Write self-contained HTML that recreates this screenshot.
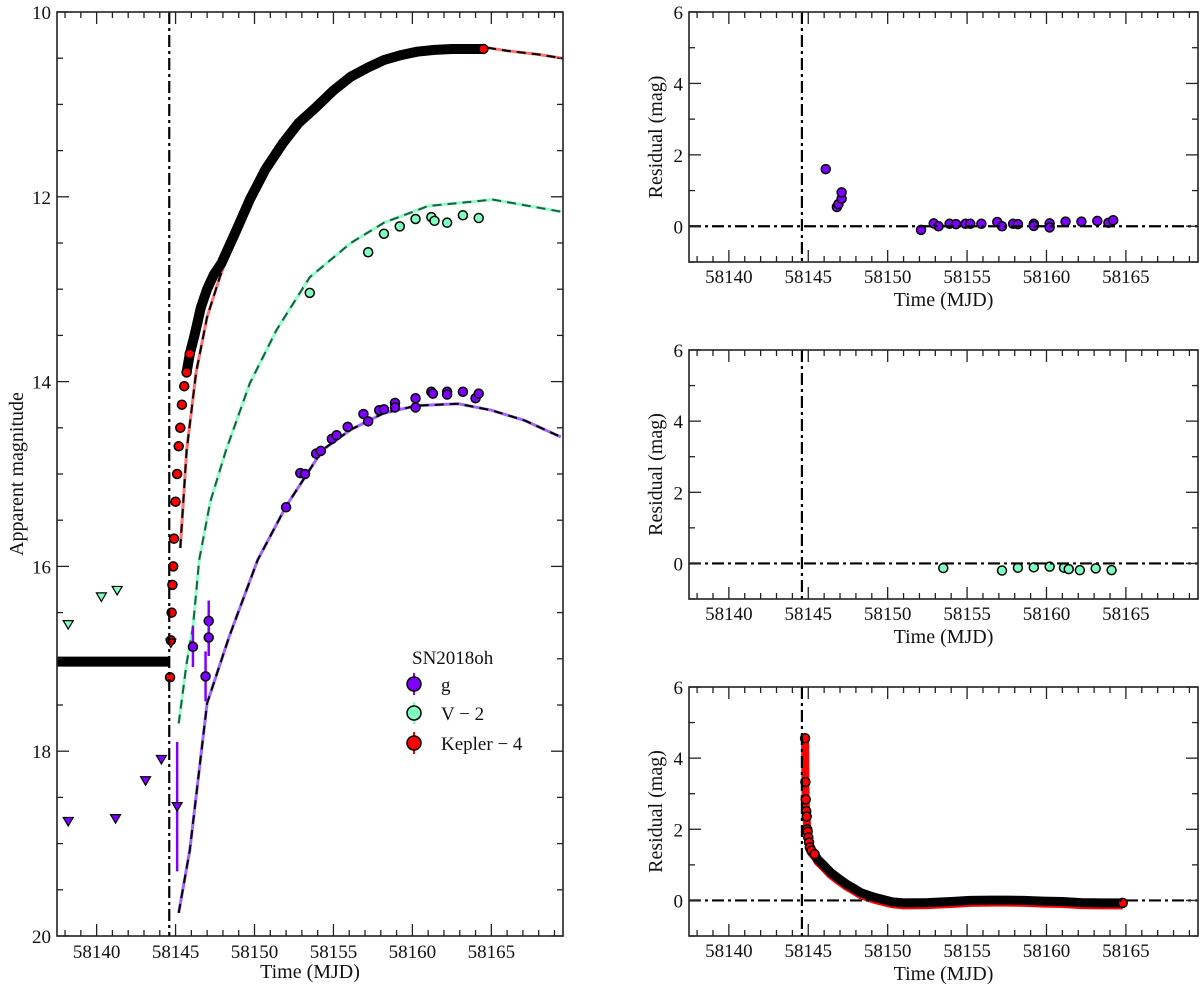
<!DOCTYPE html>
<html><head><meta charset="utf-8">
<style>
html,body{margin:0;padding:0;background:#fff;}
svg{display:block;font-family:"Liberation Serif","DejaVu Serif",serif;}
</style></head>
<body>
<svg id="fig" width="1200" height="992" viewBox="0 0 1200 992" xmlns="http://www.w3.org/2000/svg"></svg>
<script>
// ---------- data ----------
const t0 = 58144.6;
const xTicks = [58140,58145,58150,58155,58160,58165];
const magTicks = [10,12,14,16,18,20];
const resTicks = [0,2,4,6];

const kepT = [58144.65,58144.7,58144.75,58144.8,58144.85,58144.9,58145.0,58145.1,58145.2,58145.3,58145.4,58145.55,58145.7,58145.9,58146.2,58146.4,58146.6,58147.0,58147.4,58147.9,58148.8,58149.7,58150.7,58151.8,58152.8,58153.9,58155.0,58156.1,58157.2,58158.2,58159.2,58160.3,58161.4,58162.5,58163.5,58164.5];
const kepM = [17.2,16.8,16.5,16.2,16.0,15.7,15.3,15.0,14.7,14.5,14.25,14.05,13.9,13.7,13.5,13.35,13.2,13.0,12.85,12.72,12.38,12.03,11.7,11.42,11.2,11.03,10.85,10.7,10.6,10.52,10.47,10.43,10.41,10.4,10.4,10.4];
const kepPreT = [58137.5,58144.6];
const kepPreM = [17.03,17.03];
const kepModT = [58145.3,58145.7,58146.3,58147.0,58147.8,58148.8,58149.7,58150.7,58151.8,58153.9,58156.1,58158.2,58160.3,58162.0,58164.5,58166.0,58168.0,58169.5];
const kepModM = [15.8,14.75,13.9,13.3,12.87,12.4,12.03,11.7,11.42,11.03,10.7,10.52,10.43,10.39,10.38,10.42,10.46,10.5];

const vT = [58153.5,58157.2,58158.2,58159.2,58160.2,58161.2,58161.4,58162.2,58163.2,58164.2];
const vM = [13.04,12.6,12.4,12.32,12.24,12.22,12.26,12.28,12.2,12.23];
const vLimT = [58138.2,58140.3,58141.3];
const vLimM = [16.63,16.33,16.26];
const vModT = [58145.2,58145.7,58146.1,58146.5,58147.2,58148.2,58149.7,58151.4,58153.5,58156.1,58158.2,58161.0,58165.1,58169.4];
const vModM = [17.7,17.05,16.66,15.93,15.3,14.74,14.02,13.44,12.87,12.5,12.28,12.1,12.03,12.16];

const gT = [58146.1,58146.9,58147.1,58147.1,58152.0,58152.9,58153.2,58153.9,58154.2,58154.9,58155.2,58155.9,58156.9,58157.2,58157.9,58158.2,58158.9,58158.9,58160.2,58160.2,58161.2,58161.3,58162.2,58162.2,58163.2,58164.0,58164.2];
const gM = [16.87,17.19,16.59,16.77,15.36,14.99,15.0,14.78,14.75,14.62,14.58,14.49,14.35,14.43,14.31,14.3,14.23,14.28,14.18,14.28,14.11,14.13,14.11,14.14,14.11,14.18,14.13];
const gErr = [0.22,0.27,0.22,0.2,0.02,0.02,0.02,0.02,0.02,0.02,0.02,0.02,0.02,0.02,0.02,0.02,0.02,0.02,0.02,0.02,0.02,0.02,0.02,0.02,0.02,0.02,0.02];
const gLimT = [58138.2,58141.2,58143.1,58144.1,58145.1];
const gLimM = [18.76,18.73,18.32,18.09,18.6];
const gLimErr = [0,0,0,0,0.7];
const gModT = [58145.2,58145.9,58147.0,58148.4,58150.2,58152.0,58154.3,58156.1,58158.2,58160.3,58162.9,58165.0,58167.1,58169.4];
const gModM = [19.75,19.07,17.48,16.76,15.93,15.35,14.74,14.52,14.34,14.26,14.24,14.31,14.42,14.6];

const gResT = [58146.1,58146.8,58146.9,58147.1,58147.1,58152.1,58152.9,58153.2,58153.9,58154.3,58154.9,58155.2,58155.9,58156.9,58157.2,58157.9,58158.2,58159.2,58159.2,58160.2,58160.2,58161.2,58162.2,58163.2,58163.9,58164.2];
const gResV = [1.6,0.54,0.62,0.77,0.95,-0.1,0.08,0.0,0.07,0.06,0.07,0.07,0.07,0.12,0.0,0.07,0.06,0.07,0.01,0.08,-0.03,0.13,0.13,0.15,0.1,0.17];
const vResT = [58153.5,58157.2,58158.2,58159.2,58160.2,58161.1,58161.4,58162.1,58163.1,58164.1];
const vResV = [-0.13,-0.2,-0.12,-0.11,-0.09,-0.12,-0.16,-0.19,-0.14,-0.19];
const kResT = [58144.8,58144.82,58144.84,58144.87,58144.9,58144.93,58144.96,58145.0,58145.05,58145.1,58145.2,58145.4,58145.6,58145.9,58146.4,58146.9,58147.4,58147.9,58148.3,58148.8,58149.3,58150.3,58151.0,58152.5,58154.0,58155.2,58156.5,58157.4,58158.6,58159.8,58161.0,58162.2,58163.5,58164.8];
const kResV = [4.56,3.33,2.84,2.51,2.36,2.0,1.93,1.77,1.63,1.49,1.4,1.3,1.15,1.02,0.79,0.62,0.46,0.33,0.22,0.14,0.07,-0.04,-0.07,-0.06,-0.03,0.0,0.01,0.01,0.0,-0.02,-0.03,-0.06,-0.07,-0.07];

// ---------- helpers ----------
const NS = "http://www.w3.org/2000/svg";
const svg = document.getElementById('fig');
function mk(tag, attrs, parent){ const e=document.createElementNS(NS,tag); for(const k in attrs) e.setAttribute(k,attrs[k]); (parent||svg).appendChild(e); return e; }
const PURPLE="#8000ff", GREEN="#7fffbf", RED="#ff0000";

function makeAxes(L,R,T,B,xmin,xmax,ymin,ymax,invert){
  const sx=t=>L+(t-xmin)/(xmax-xmin)*(R-L);
  const sy=invert? (v=>T+(v-ymin)/(ymax-ymin)*(B-T)) : (v=>B-(v-ymin)/(ymax-ymin)*(B-T));
  return {sx,sy,L,R,T,B,xmin,xmax,ymin,ymax};
}
function drawFrame(ax,g,yTicks,yMinorStep,name,labOff){
  for(let t=Math.ceil(ax.xmin);t<=ax.xmax;t++){
    const x=ax.sx(t), major=(t%5===0), len=major?12:6;
    const tk=mk('line',{x1:x,x2:x,y1:ax.B,y2:ax.B-len,stroke:'#222','stroke-width':1.3},g);
     
    mk('line',{x1:x,x2:x,y1:ax.T,y2:ax.T+len,stroke:'#222','stroke-width':1.3},g);
  }
  const lo=Math.min(ax.ymin,ax.ymax), hi=Math.max(ax.ymin,ax.ymax);
  for(let v=Math.ceil(lo/yMinorStep)*yMinorStep; v<=hi+1e-9; v+=yMinorStep){
    const y=ax.sy(v), major=Math.abs(v/2-Math.round(v/2))<1e-6, len=major?12:6;
    const tk=mk('line',{x1:ax.L,x2:ax.L+len,y1:y,y2:y,stroke:'#222','stroke-width':1.3},g);
     
    mk('line',{x1:ax.R,x2:ax.R-len,y1:y,y2:y,stroke:'#222','stroke-width':1.3},g);
  }
  xTicks.forEach(t=>{
    const tx=mk('text',{x:ax.sx(t),y:ax.B+labOff,'font-size':19,'text-anchor':'middle',fill:'#111'},g);
    tx.textContent=t;
     
  });
  yTicks.forEach(v=>{
    const tx=mk('text',{x:ax.L-6,y:ax.sy(v)+7,'font-size':19,'text-anchor':'end',fill:'#111'},g);
    tx.textContent=v;
     
  });
  const fr=mk('rect',{x:ax.L,y:ax.T,width:ax.R-ax.L,height:ax.B-ax.T,fill:'none',stroke:'#222','stroke-width':1.6},g);
   
}
function clipFor(ax,id){
  const cp=mk('clipPath',{id:id}); mk('rect',{x:ax.L,y:ax.T,width:ax.R-ax.L,height:ax.B-ax.T},cp);
  return 'url(#'+id+')';
}
function pathD(ax,xs,ys){ return xs.map((t,i)=>(i?'L':'M')+ax.sx(t).toFixed(1)+','+ax.sy(ys[i]).toFixed(1)).join(''); }
function dot(ax,g,t,v,fill,r,name){
  const c=mk('circle',{cx:ax.sx(t),cy:ax.sy(v),r:r||4.5,fill:fill,stroke:'#000','stroke-width':1.5},g);
   
  return c;
}
function tri(ax,g,t,v,fill,name){
  const x=ax.sx(t),y=ax.sy(v),s=5;
  const p=mk('polygon',{points:`${x-s},${y-s*0.8} ${x+s},${y-s*0.8} ${x},${y+s*0.9}`,fill:fill,stroke:'#000','stroke-width':1.2},g);
   
}
function dashdot(g,x1,y1,x2,y2,name){
  const l=mk('line',{x1,y1,x2,y2,stroke:'#000','stroke-width':2.2,'stroke-dasharray':'12,4,3,4'},g);
   
}

// ---------- main panel ----------
const M = makeAxes(57,563,12,936,58137.49,58169.54,10,20,true);
const gm = mk('g',{});  
const clipM = clipFor(M,'clipM');
const gmc = mk('g',{'clip-path':clipM},gm);

[[gModT,gModM,'#a066ff','g-model','#000'],[vModT,vModM,'#8fffc8','v-model','#1f5f40'],[kepModT,kepModM,'#ff7070','kepler-model','#000']].forEach(([xs,ys,col,nm,dcol])=>{
  const s=mk('path',{d:pathD(M,xs,ys),fill:'none',stroke:col,'stroke-width':3},gmc);
   
  const d=mk('path',{d:pathD(M,xs,ys),fill:'none',stroke:dcol,'stroke-width':2,'stroke-dasharray':'9,6'},gmc);
   
});
const kb=mk('path',{d:pathD(M,kepPreT,kepPreM),fill:'none',stroke:'#000','stroke-width':10},gmc);
 
const kb2=mk('path',{d:pathD(M,kepT.slice(12),kepM.slice(12)),fill:'none',stroke:'#000','stroke-width':10,'stroke-linecap':'round','stroke-linejoin':'round'},gmc);
 
kepT.forEach((t,i)=>{ if(i<14) dot(M,gmc,t,kepM[i],RED,4.5,'kepler-point'); });
dot(M,gmc,kepT[kepT.length-1],kepM[kepM.length-1],RED,4.5,'kepler-point');
tri(M,gmc,58144.7,16.83,RED,'kepler-limit');
vLimT.forEach((t,i)=>tri(M,gmc,t,vLimM[i],GREEN,'v-upper-limit'));
vT.forEach((t,i)=>dot(M,gmc,t,vM[i],GREEN,4.5,'v-point'));
gLimT.forEach((t,i)=>{
  if(gLimErr[i]>0){ const e=mk('line',{x1:M.sx(t),x2:M.sx(t),y1:M.sy(gLimM[i]-gLimErr[i]),y2:M.sy(gLimM[i]+gLimErr[i]),stroke:PURPLE,'stroke-width':2.5},gmc);
      }
  tri(M,gmc,t,gLimM[i],PURPLE,'g-upper-limit');
});
gT.forEach((t,i)=>{
  if(gErr[i]>0.05){ const e=mk('line',{x1:M.sx(t),x2:M.sx(t),y1:M.sy(gM[i]-gErr[i]),y2:M.sy(gM[i]+gErr[i]),stroke:PURPLE,'stroke-width':2.5},gmc);
      }
  dot(M,gmc,t,gM[i],PURPLE,4.5,'g-point');
});
dashdot(gm,M.sx(t0),M.T,M.sx(t0),M.B,'explosion-time-line');
drawFrame(M,gm,magTicks,0.5,'main',22);
const xt=mk('text',{x:(M.L+M.R)/2,y:978,'font-size':20,'text-anchor':'middle',fill:'#111'},gm);
xt.textContent='Time (MJD)';  
const yt=mk('text',{x:0,y:0,'font-size':20,'text-anchor':'middle',fill:'#111',transform:`translate(23,${(M.T+M.B)/2}) rotate(-90)`},gm);
yt.textContent='Apparent magnitude';  

// legend
const lg=mk('g',{});  
const lt=mk('text',{x:412,y:664,'font-size':19,fill:'#111'},lg); lt.textContent='SN2018oh';
 
[['g',PURPLE,684],['V − 2',GREEN,713],['Kepler − 4',RED,743]].forEach(([lab,col,y])=>{
  const e=mk('g',{},lg);  
  mk('line',{x1:414,x2:414,y1:y-11,y2:y+11,stroke:col,'stroke-width':2},e);
  mk('circle',{cx:414,cy:y,r:7,fill:col,stroke:'#000','stroke-width':1.5},e);
  const t=mk('text',{x:441,y:y+7,'font-size':19,fill:'#111'},e); t.textContent=lab;
});

// ---------- residual panels ----------
function resPanel(T,B,name,xs,vs,col,id,kepler){
  const A=makeAxes(689,1198,T,B,58137.49,58169.54,-1,6,false);
  const g=mk('g',{});  
  const gc=mk('g',{'clip-path':clipFor(A,id)},g);
  if(kepler){
    const rl=mk('path',{d:pathD(A,xs,vs.map(v=>v-0.07)),fill:'none',stroke:RED,'stroke-width':8,'stroke-linejoin':'round'},gc);
     
    const bl=mk('path',{d:pathD(A,xs.slice(10),vs.slice(10)),fill:'none',stroke:'#000','stroke-width':9,'stroke-linejoin':'round'},gc);
     
  }
  dashdot(g,A.L,A.sy(0),A.R,A.sy(0),'zero-line');
  dashdot(g,A.sx(t0),A.T,A.sx(t0),A.B,'explosion-time-line');
  xs.forEach((t,i)=>{ if(!kepler || i<12 || i===xs.length-1) dot(A,gc,t,vs[i],col,4.5,'residual-point'); });
  drawFrame(A,g,resTicks,1,name,21);
  const xt=mk('text',{x:(A.L+A.R)/2,y:B+44,'font-size':20,'text-anchor':'middle',fill:'#111'},g);
  xt.textContent='Time (MJD)';  
  const yt=mk('text',{x:0,y:0,'font-size':20,'text-anchor':'middle',fill:'#111',transform:`translate(662,${(T+B)/2}) rotate(-90)`},g);
  yt.textContent='Residual (mag)';  
}
resPanel(12,262,'g-residual-panel',gResT,gResV,PURPLE,'c1',false);
resPanel(350,599,'v-residual-panel',vResT,vResV,GREEN,'c2',false);
resPanel(687,936,'kepler-residual-panel',kResT,kResV,RED,'c3',true);
</script>
</body></html>
